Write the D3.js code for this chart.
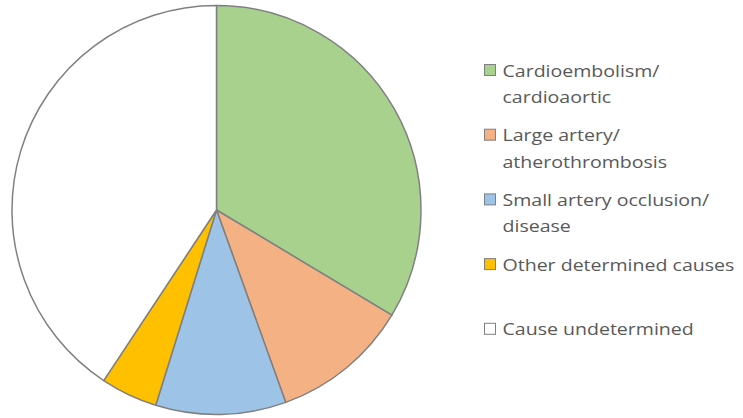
<!DOCTYPE html>
<html>
<head>
<meta charset="utf-8">
<script src="https://cdn.jsdelivr.net/npm/d3@7"></script>
<style>
  html, body { margin: 0; padding: 0; background: #fff; }
  svg { display: block; }
</style>
</head>
<body>
<svg id="chart" width="743" height="418"></svg>
<script>
// Share of stroke causes (percent)
const causes = [
  "Cardioembolism/ cardioaortic",
  "Large artery/ atherothrombosis",
  "Small artery occlusion/ disease",
  "Other determined causes",
  "Cause undetermined"
];
const shares = [33.6, 10.9, 10.3, 4.5, 40.7];
const legendLines = [
  ["Cardioembolism/", "cardioaortic"],
  ["Large artery/", "atherothrombosis"],
  ["Small artery occlusion/", "disease"],
  ["Other determined causes"],
  ["Cause undetermined"]
];
const palette = ["#A9D18E", "#F4B183", "#9DC3E6", "#FFC000", "#FFFFFF"];

const svg = d3.select("#chart");
const cx = 216.5, cy = 210, radius = 204.5;

const color = d3.scaleOrdinal().domain(causes).range(palette);

const data = causes.map((c, i) => ({ cause: c, value: shares[i], lines: legendLines[i] }));

const pie = d3.pie().value(d => d.value).sort(null);
const arc = d3.arc().innerRadius(0).outerRadius(radius);

svg.append("g")
  .attr("transform", `translate(${cx},${cy})`)
  .selectAll("path")
  .data(pie(data))
  .join("path")
  .attr("d", arc)
  .attr("fill", d => color(d.data.cause))
  .attr("stroke", "#808080")
  .attr("stroke-width", 1.5)
  .attr("stroke-linejoin", "round");

// Legend: evenly spaced entries on the right
const legendX = 484.5, legendTop = 64.5, slot = 64.7, box = 11, lineH = 26.5;
const textX = box + 7, legendTextWidth = 232;
const legend = svg.append("g");
const items = legend.selectAll("g")
  .data(data)
  .join("g")
  .attr("transform", (d, i) => `translate(${legendX},${legendTop + i * slot})`);

items.append("rect")
  .attr("width", box)
  .attr("height", box)
  .attr("fill", d => color(d.cause))
  .attr("stroke", "#808080")
  .attr("stroke-width", 1);

const labels = items.append("g")
  .attr("class", "label")
  .attr("transform", `translate(${textX},0)`);

labels.append("text")
  .attr("y", 12)
  .attr("font-family", "'Open Sans', sans-serif")
  .attr("font-size", 16.5)
  .attr("fill", "#595959")
  .selectAll("tspan")
  .data(d => d.lines)
  .join("tspan")
  .attr("x", 0)
  .attr("dy", (d, i) => i === 0 ? 0 : lineH)
  .text(d => d);

// Widen the label type slightly so the longest line fills the legend column
const widest = d3.max(labels.selectAll("tspan").nodes(), n => n.getComputedTextLength());
const sx = legendTextWidth / widest;
labels.attr("transform", `translate(${textX},0) scale(${sx},1)`);
</script>
</body>
</html>
